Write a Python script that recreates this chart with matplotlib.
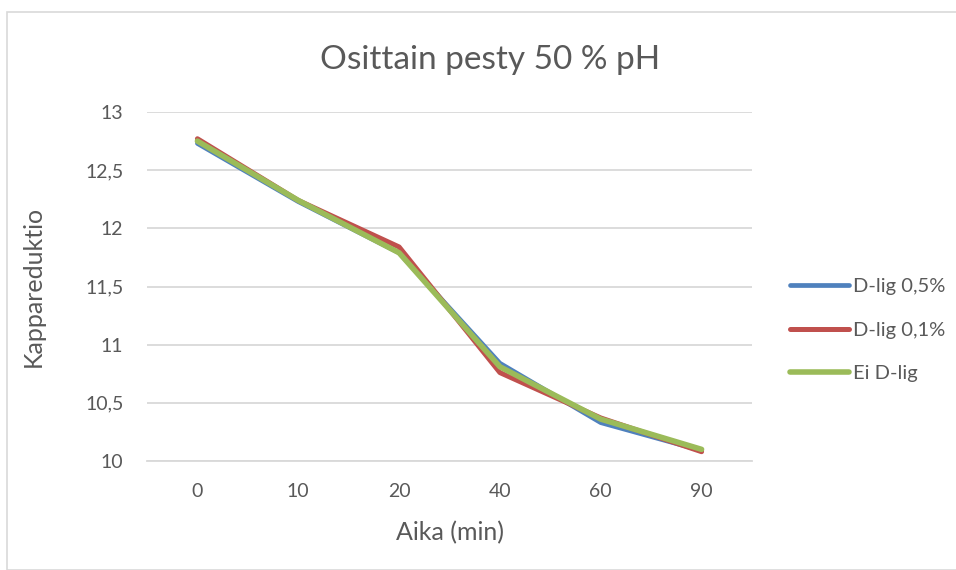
import matplotlib.pyplot as plt
from matplotlib.patches import Rectangle

plt.rcParams['font.family'] = ['Lato', 'DejaVu Sans']

# aika (min) kategorioina
aika = ["0", "10", "20", "40", "60", "90"]
dlig_05 = [12.73, 12.23, 11.79, 10.84, 10.33, 10.09]
dlig_01 = [12.77, 12.24, 11.84, 10.76, 10.37, 10.08]
ei_dlig = [12.75, 12.24, 11.79, 10.81, 10.36, 10.10]

harmaa = "#595959"
viiva = "#d9d9d9"

W, H = 956, 570
fig = plt.figure(figsize=(W / 100, H / 100), dpi=100)
fig.patches.append(Rectangle((7 / W, 0), 1, 1 - 12 / H, transform=fig.transFigure,
                             fill=False, edgecolor=viiva, linewidth=1.2))

ax = fig.add_axes([147 / W, (H - 461) / H, (752 - 147) / W, 349 / H])
x = range(len(aika))
ax.plot(x, dlig_05, color="#4F81BD", lw=3.4, label="D-lig 0,5%", solid_capstyle="round")
ax.plot(x, dlig_01, color="#C0504D", lw=3.6, label="D-lig 0,1%", solid_capstyle="round")
ax.plot(x, ei_dlig, color="#9BBB59", lw=4.0, label="Ei D-lig", solid_capstyle="round")

ax.set_xlim(-0.5, len(aika) - 0.5)
ax.set_ylim(10, 13)
ax.set_xticks(list(x))
ax.set_xticklabels(aika)
yt = [10, 10.5, 11, 11.5, 12, 12.5, 13]
ax.set_yticks(yt)
ax.set_yticklabels([f"{v:g}".replace(".", ",") for v in yt])
ax.grid(axis="y", color=viiva, lw=1.3)
ax.set_axisbelow(True)
for s in ["top", "right", "left"]:
    ax.spines[s].set_visible(False)
ax.spines["bottom"].set_color(viiva)
ax.spines["bottom"].set_linewidth(1.3)
ax.tick_params(length=0, labelsize=14, colors=harmaa)
ax.tick_params(axis="x", pad=16)
ax.tick_params(axis="y", pad=17)

ax.set_xlabel("Aika (min)", fontsize=18, color=harmaa)
ax.set_ylabel("Kappareduktio", fontsize=18, color=harmaa)
ax.xaxis.set_label_coords(0.5, -(533 - 461) / 349)
ax.yaxis.set_label_coords(-(147 - 33) / 605, 0.5)
ax.xaxis.label.set_va("center")
ax.yaxis.label.set_va("center")
fig.text(490 / W, 1 - 60 / H, "Osittain pesty 50 % pH", ha="center", va="center",
         fontsize=24, color=harmaa)

ax.legend(loc="center left", bbox_to_anchor=(772 / W, 1 - 330 / H),
          bbox_transform=fig.transFigure, frameon=False, fontsize=14.5,
          handlelength=2.9, handletextpad=0.2, labelspacing=1.3, labelcolor=harmaa)

fig.savefig("out.png", dpi=100)
